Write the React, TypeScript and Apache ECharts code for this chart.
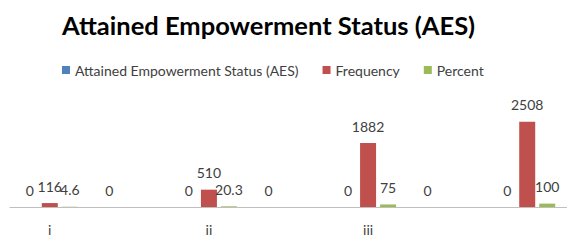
import React, { useEffect, useRef } from "react";
import * as echarts from "echarts";

const categories = ["i", "", "ii", "", "iii", "", ""];
const aesValues = [0, 0, 0, 0, 0, 0, 0];
const frequencyValues = [116, null, 510, null, 1882, null, 2508];
const percentValues = [4.6, null, 20.3, null, 75, null, 100];

const FONT = "Lato";

export default function App() {
  const ref = useRef<HTMLDivElement>(null);
  useEffect(() => {
    if (!ref.current) return;
    const chart = echarts.init(ref.current, null, { renderer: "svg" });
    const label = {
      show: true,
      position: "top" as const,
      distance: 10,
      color: "#404040",
      fontFamily: FONT,
      fontSize: 14,
    };
    chart.setOption({
      animation: false,
      backgroundColor: "#ffffff",
      title: {
        text: "Attained Empowerment Status (AES)",
        left: 57,
        top: 7,
        textStyle: { fontFamily: FONT, fontWeight: "bold", fontSize: 25.5, color: "#000000" },
      },
      legend: {
        left: 57,
        top: 58,
        itemWidth: 8,
        itemHeight: 8,
        itemGap: 24,
        icon: "rect",
        textStyle: { fontFamily: FONT, fontSize: 14, color: "#404040" },
        data: ["Attained Empowerment Status (AES)", "Frequency", "Percent"],
      },
      grid: { left: 10, top: 105, width: 560, height: 102 },
      xAxis: {
        type: "category",
        data: categories,
        axisLine: { lineStyle: { color: "#bfbfbf", width: 1 } },
        axisTick: { show: false },
        axisLabel: { color: "#404040", fontFamily: FONT, fontSize: 14, margin: 15, interval: 0 },
      },
      yAxis: {
        type: "value",
        min: 0,
        max: 3000,
        show: false,
        splitLine: { show: false },
      },
      series: [
        {
          name: "Attained Empowerment Status (AES)",
          type: "bar",
          data: aesValues,
          itemStyle: { color: "#4F81BD" },
          barWidth: 16,
          barGap: "25%",
          label,
        },
        {
          name: "Frequency",
          type: "bar",
          data: frequencyValues,
          itemStyle: { color: "#C0504D" },
          barWidth: 16,
          barGap: "25%",
          label,
        },
        {
          name: "Percent",
          type: "bar",
          data: percentValues,
          itemStyle: { color: "#9BBB59" },
          barWidth: 16,
          barGap: "25%",
          label,
        },
      ],
    });
    return () => chart.dispose();
  }, []);
  return (
    <div
      ref={ref}
      style={{ position: "fixed", left: 0, top: 0, width: 567, height: 246 }}
    />
  );
}
